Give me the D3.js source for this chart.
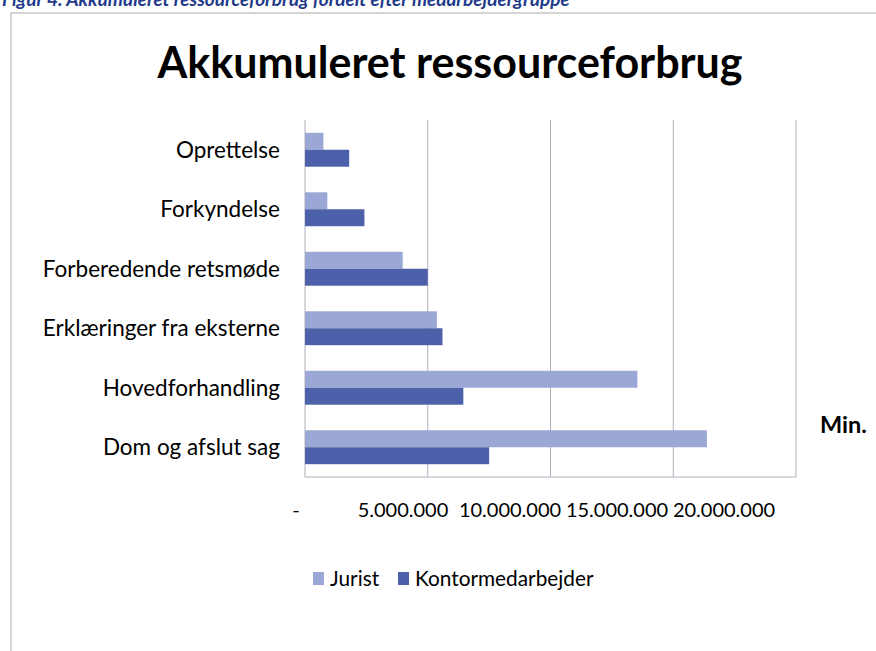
<!DOCTYPE html>
<html>
<head>
<meta charset="utf-8">
<script src="https://cdn.jsdelivr.net/npm/d3@7"></script>
<style>
  body { margin: 0; background: #fff; }
  svg { display: block; font-family: Lato, "Open Sans", sans-serif; }
</style>
</head>
<body>
<div id="chart"></div>
<script>
// data (minutes)
const categories = ["Oprettelse", "Forkyndelse", "Forberedende retsmøde",
  "Erklæringer fra eksterne", "Hovedforhandling", "Dom og afslut sag"];
const seriesNames = ["Jurist", "Kontormedarbejder"];
const jurist = [750000, 910000, 3980000, 5370000, 13540000, 16370000];
const kontor = [1800000, 2420000, 5000000, 5600000, 6450000, 7500000];
const tickValues = [0, 5000000, 10000000, 15000000, 20000000];
const colors = ["#9ba7d4", "#4c61a9"];

const W = 876, H = 651;
const plot = { left: 305, right: 796, top: 120, bottom: 477 };

const svg = d3.select("#chart").append("svg")
  .attr("width", W)
  .attr("height", H);

// figure caption, cut at top of the scan
svg.append("text")
  .attr("x", 2).attr("y", 6)
  .attr("fill", "#1f3a8a")
  .attr("font-weight", "bold")
  .attr("font-style", "italic")
  .attr("font-size", 19)
  .text("Figur 4. Akkumuleret ressourceforbrug fordelt efter medarbejdergruppe");

// chart frame
svg.append("path")
  .attr("d", `M11,${H} V13 H${W}`)
  .attr("fill", "none")
  .attr("stroke", "#c8c8c8")
  .attr("stroke-width", 1.5);

// title
svg.append("text")
  .attr("x", 450).attr("y", 78)
  .attr("text-anchor", "middle")
  .attr("font-weight", "bold")
  .attr("font-size", 43)
  .attr("fill", "#000")
  .text("Akkumuleret ressourceforbrug");

const x = d3.scaleLinear()
  .domain([0, 20000000])
  .range([plot.left, plot.right]);

const y = d3.scaleBand()
  .domain(categories)
  .range([plot.top, plot.bottom])
  .paddingInner(0.43)
  .paddingOuter(0.215);

const ySub = d3.scaleBand()
  .domain(seriesNames)
  .range([0, y.bandwidth()]);

// gridlines
svg.append("g")
  .selectAll("line")
  .data(tickValues)
  .join("line")
  .attr("x1", d => x(d)).attr("x2", d => x(d))
  .attr("y1", plot.top).attr("y2", plot.bottom)
  .attr("stroke", "#b4acbc")
  .attr("stroke-width", 1);

// bottom axis line
svg.append("line")
  .attr("x1", plot.left).attr("x2", plot.right)
  .attr("y1", plot.bottom).attr("y2", plot.bottom)
  .attr("stroke", "#b4acbc");

// bars
const rows = categories.map((c, i) => ({ cat: c, values: [jurist[i], kontor[i]] }));
const groups = svg.append("g")
  .selectAll("g")
  .data(rows)
  .join("g")
  .attr("transform", d => `translate(0,${y(d.cat)})`);

groups.selectAll("rect")
  .data(d => d.values.map((v, j) => ({ key: seriesNames[j], value: v, j: j })))
  .join("rect")
  .attr("x", x(0))
  .attr("y", d => ySub(d.key))
  .attr("width", d => x(d.value) - x(0))
  .attr("height", ySub.bandwidth())
  .attr("fill", d => colors[d.j]);

// category labels
svg.append("g")
  .selectAll("text")
  .data(categories)
  .join("text")
  .attr("x", 280)
  .attr("y", d => y(d) + y.bandwidth() / 2)
  .attr("dy", "0.35em")
  .attr("text-anchor", "end")
  .attr("font-size", 22.5)
  .attr("fill", "#000")
  .text(d => d);

// tick labels (spread narrower than the grid in the original)
const locale = d3.formatLocale({ decimal: ",", thousands: ".", grouping: [3], currency: ["", ""] });
const fmt = locale.format(",.0f");
const tickX = d3.scaleLinear()
  .domain(x.domain())
  .range([x(0) - 9, x(20000000) - 72]);

svg.append("g")
  .selectAll("text")
  .data(tickValues)
  .join("text")
  .attr("x", d => tickX(d))
  .attr("y", 517)
  .attr("text-anchor", "middle")
  .attr("font-size", 20)
  .attr("fill", "#000")
  .text(d => d === 0 ? "-" : fmt(d));

// unit label
svg.append("text")
  .attr("x", 820).attr("y", 433)
  .attr("font-weight", "bold")
  .attr("font-size", 23.5)
  .attr("fill", "#000")
  .text("Min.");

// legend
const legendX = [313, 398];
const legend = svg.append("g")
  .selectAll("g")
  .data(seriesNames)
  .join("g")
  .attr("transform", (d, i) => `translate(${legendX[i]},572)`);

legend.append("rect")
  .attr("width", 11).attr("height", 13)
  .attr("fill", (d, i) => colors[i]);

legend.append("text")
  .attr("x", 17).attr("y", 7)
  .attr("dy", "0.35em")
  .attr("font-size", 20.8)
  .attr("fill", "#000")
  .text(d => d);
</script>
</body>
</html>
